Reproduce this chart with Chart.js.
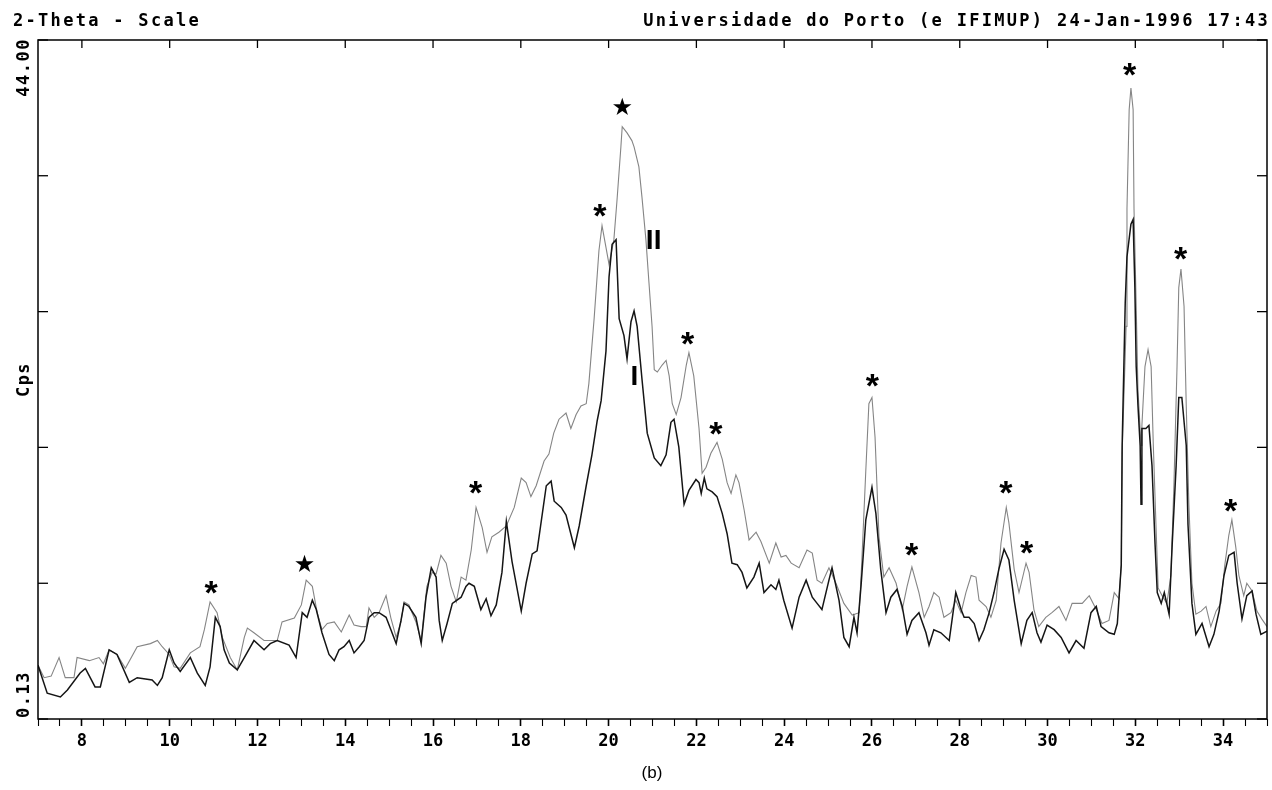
<!DOCTYPE html>
<html>
<head>
<meta charset="utf-8">
<script src="https://cdn.jsdelivr.net/npm/chart.js@4/dist/chart.umd.min.js"></script>
<style>
  html, body { margin: 0; padding: 0; background: #fff; }
  #wrap { width: 1272px; height: 790px; }
</style>
</head>
<body>
<div id="wrap"><canvas id="xrd_canva"></canvas></div>
<script>
// ----- curve I (dark) -----
const thetaI = [
    7.00, 7.21, 7.51, 7.67, 7.96, 8.08, 8.30, 8.42, 8.62, 8.80, 9.08, 9.26, 9.60, 9.72, 9.83, 9.99,
    10.10, 10.24, 10.47, 10.63, 10.81, 10.92, 11.04, 11.15, 11.24, 11.36, 11.54, 11.70, 11.92, 12.15, 12.29, 12.45,
    12.72, 12.88, 13.02, 13.13, 13.25, 13.34, 13.47, 13.63, 13.75, 13.86, 13.97, 14.09, 14.20, 14.32, 14.43, 14.54,
    14.66, 14.77, 14.93, 15.04, 15.16, 15.27, 15.34, 15.45, 15.61, 15.73, 15.84, 15.96, 16.07, 16.14, 16.21, 16.32,
    16.44, 16.64, 16.75, 16.82, 16.94, 17.09, 17.21, 17.32, 17.44, 17.57, 17.67,
    17.80, 18.01, 18.12, 18.26, 18.37, 18.58, 18.69, 18.76, 18.92, 19.03, 19.22, 19.33, 19.49, 19.62, 19.74, 19.83,
    19.94, 20.01, 20.08, 20.17, 20.24, 20.35, 20.42, 20.51, 20.58, 20.65, 20.76, 20.88, 21.04, 21.19, 21.31, 21.42,
    21.49, 21.60, 21.72, 21.83, 21.99, 22.06,
    22.11, 22.18, 22.24, 22.36, 22.47, 22.59, 22.70, 22.81, 22.93, 23.04, 23.15, 23.31, 23.43, 23.54, 23.70, 23.81,
    23.88, 23.99, 24.18, 24.34, 24.50, 24.64, 24.75, 24.86, 25.02, 25.09, 25.25, 25.36, 25.48, 25.59, 25.66, 25.75,
    25.86, 26.00, 26.09, 26.20, 26.32, 26.43, 26.57, 26.69, 26.80, 26.91, 27.07,
    27.23, 27.30, 27.41, 27.57, 27.76, 27.91, 28.03, 28.10, 28.21, 28.33, 28.44, 28.55, 28.67, 28.78, 28.89, 29.01,
    29.12, 29.24, 29.40, 29.53, 29.65, 29.76, 29.85, 29.99, 30.15, 30.31, 30.49, 30.65, 30.83, 30.99, 31.11, 31.22, 31.40,
    31.52, 31.59, 31.68, 31.70, 31.77, 31.81, 31.90, 31.95, 31.99, 32.02, 32.06, 32.11, 32.13, 32.15, 32.24, 32.31,
    32.38, 32.45, 32.50, 32.59, 32.66, 32.77, 32.84, 32.93, 32.99, 33.06, 33.16, 33.20, 33.29, 33.38, 33.52, 33.68,
    33.79, 33.91, 34.02, 34.13, 34.25, 34.32, 34.43, 34.54, 34.66, 34.75, 34.86, 35.00
];
const cpsI = [
    3.6, 1.8, 1.55, 2.0, 3.1, 3.4, 2.2, 2.2, 4.6, 4.3, 2.5, 2.8, 2.65, 2.3, 2.8, 4.6,
    3.75, 3.2, 4.1, 3.1, 2.3, 3.5, 6.7, 6.1, 4.6, 3.75, 3.3, 4.1, 5.2, 4.6, 5.0, 5.2,
    4.9, 4.1, 7.0, 6.7, 7.8, 7.2, 5.7, 4.3, 3.9, 4.6, 4.8, 5.2, 4.4, 4.8, 5.2, 6.7,
    7.0, 7.0, 6.7, 5.9, 5.0, 6.5, 7.6, 7.4, 6.7, 5.0, 8.0, 9.9, 9.3, 6.5, 5.2, 6.3,
    7.6, 8.0, 8.7, 8.9, 8.7, 7.2, 7.9, 6.8, 7.5, 9.6, 12.9,
    10.3, 7.1, 8.9, 10.8, 11.0, 15.2, 15.5, 14.2, 13.8, 13.3, 11.2, 12.6, 15.2, 17.2, 19.4, 20.7,
    23.9, 28.7, 30.8, 31.1, 26.0, 24.9, 23.4, 25.8, 26.5, 25.5, 22.1, 18.6, 17.0, 16.5, 17.2, 19.3,
    19.5, 17.7, 14.0, 14.9, 15.6, 15.4,
    14.7, 15.7, 15.0, 14.8, 14.5, 13.4, 12.1, 10.2, 10.1, 9.6, 8.6, 9.3, 10.2, 8.3, 8.8, 8.5,
    9.1, 7.8, 6.0, 8.0, 9.1, 8.0, 7.6, 7.2, 9.1, 9.9, 7.8, 5.4, 4.8, 6.7, 5.7, 8.7,
    13.0, 15.1, 13.4, 9.8, 7.0, 8.0, 8.5, 7.4, 5.6, 6.5, 7.0,
    5.7, 4.9, 5.9, 5.7, 5.2, 8.3, 7.2, 6.7, 6.7, 6.3, 5.2, 5.9, 7.0, 8.3, 9.8, 11.1,
    10.4, 7.8, 5.0, 6.5, 7.0, 5.7, 5.1, 6.2, 5.9, 5.4, 4.4, 5.2, 4.7, 7.0, 7.4, 6.1, 5.7,
    5.6, 6.3, 10.1, 17.8, 27.0, 30.0, 32.1, 32.4, 28.0, 22.9, 20.4, 17.8, 14.0, 18.9, 18.9, 19.1,
    16.5, 11.4, 8.3, 7.6, 8.3, 6.9, 11.4, 16.5, 20.9, 20.9, 17.8, 12.7, 7.6, 5.6, 6.3, 4.8,
    5.6, 7.1, 9.4, 10.7, 10.9, 8.9, 6.6, 8.1, 8.4, 6.9, 5.6, 5.8
];

// ----- curve II (light) -----
const thetaII = [
    7.00, 7.14, 7.30, 7.48, 7.62, 7.82, 7.89, 8.17, 8.39, 8.49, 8.62, 8.80, 8.99, 9.26, 9.56, 9.72,
    9.83, 9.99, 10.10, 10.24, 10.47, 10.69, 10.79, 10.92, 11.08, 11.20, 11.38, 11.54, 11.70, 11.77, 11.92, 12.15, 12.45,
    12.56, 12.84, 13.00, 13.11, 13.25, 13.36, 13.47, 13.59, 13.75, 13.91, 14.09, 14.20, 14.36, 14.48, 14.54, 14.66,
    14.77, 14.93, 15.04, 15.16, 15.27, 15.34, 15.45, 15.61, 15.73, 15.86, 15.98, 16.07, 16.18, 16.30, 16.41, 16.53,
    16.64, 16.75, 16.87, 16.98, 17.12, 17.23, 17.34, 17.50, 17.67,
    17.85, 18.01, 18.12, 18.23, 18.35, 18.53, 18.64, 18.75, 18.87, 19.03, 19.14, 19.26, 19.37, 19.49, 19.55, 19.67,
    19.78, 19.85, 19.94, 20.01, 20.12, 20.19, 20.28, 20.31, 20.42, 20.53, 20.58, 20.69, 20.76, 20.85, 20.92, 20.99,
    21.04, 21.11, 21.22, 21.31, 21.38, 21.45, 21.54, 21.65, 21.77, 21.83, 21.94, 22.06,
    22.13, 22.22, 22.33, 22.47, 22.59, 22.70, 22.79, 22.90, 22.97, 23.09, 23.20, 23.36, 23.47, 23.66, 23.81, 23.93,
    24.04, 24.16, 24.34, 24.52, 24.64, 24.75, 24.86, 25.02, 25.18, 25.36, 25.55, 25.71, 25.77, 25.86, 25.93, 26.00,
    26.07, 26.16, 26.27, 26.39, 26.55, 26.69, 26.80, 26.91, 27.07,
    27.19, 27.30, 27.41, 27.53, 27.64, 27.80, 27.91, 28.03, 28.14, 28.26, 28.37, 28.44, 28.60, 28.71, 28.83, 28.94,
    29.06, 29.12, 29.24, 29.35, 29.51, 29.58, 29.69, 29.80, 29.96, 30.10, 30.26, 30.42, 30.56, 30.79, 30.95, 31.11,
    31.24, 31.40,
    31.52, 31.63, 31.68, 31.70, 31.79, 31.81, 31.86, 31.90, 31.95, 31.97, 32.02, 32.06, 32.13, 32.15, 32.22, 32.29,
    32.36, 32.41, 32.47, 32.52, 32.61, 32.72, 32.81, 32.88, 32.95, 32.99, 33.04, 33.11, 33.16, 33.22, 33.29, 33.38,
    33.50, 33.61, 33.72, 33.84, 33.95, 34.04, 34.13, 34.20, 34.29, 34.36, 34.47, 34.54, 34.66, 34.77, 34.88, 35.00
];
const cpsII = [
    3.6, 2.8, 2.9, 4.1, 2.8, 2.8, 4.1, 3.9, 4.1, 3.7, 4.6, 4.3, 3.4, 4.8, 5.0, 5.2,
    4.8, 4.3, 3.5, 3.4, 4.4, 4.8, 5.9, 7.7, 7.0, 5.4, 4.1, 3.3, 5.4, 6.0, 5.7, 5.2, 5.2,
    6.4, 6.65, 7.5, 9.1, 8.7, 7.0, 5.9, 6.3, 6.4, 5.75, 6.85, 6.2, 6.1, 6.1, 7.3, 6.7,
    7.0, 8.1, 6.65, 5.4, 6.4, 7.7, 7.5, 6.4, 5.2, 8.7, 9.6, 9.5, 10.7, 10.2, 8.7, 7.7,
    9.3, 9.1, 11.05, 13.8, 12.5, 10.9, 11.9, 12.2, 12.6,
    13.8, 15.7, 15.4, 14.5, 15.2, 16.8, 17.25, 18.6, 19.5, 19.9, 18.9, 19.8, 20.35, 20.5, 21.8, 26.0,
    30.4, 32.0, 30.6, 29.5, 31.1, 33.6, 37.1, 38.4, 38.0, 37.5, 37.1, 35.8, 33.85, 31.1, 28.3, 25.5,
    22.7, 22.55, 23.0, 23.3, 22.3, 20.5, 19.8, 20.9, 23.0, 23.8, 22.3, 18.9,
    16.0, 16.4, 17.3, 18.0, 16.9, 15.4, 14.7, 15.9, 15.4, 13.6, 11.7, 12.2, 11.6, 10.2, 11.5, 10.6,
    10.7, 10.2, 9.9, 11.05, 10.85, 9.1, 8.9, 9.9, 8.9, 7.6, 6.85, 7.0, 10.4, 16.2, 20.5, 20.9,
    18.35, 11.9, 9.3, 9.9, 8.9, 7.2, 8.7, 9.95, 8.3,
    6.7, 7.4, 8.3, 8.0, 6.7, 7.0, 7.8, 7.0, 8.3, 9.4, 9.3, 7.8, 7.4, 6.7, 7.8, 11.5,
    13.8, 12.8, 9.8, 8.3, 10.2, 9.6, 7.2, 6.1, 6.7, 7.0, 7.4, 6.5, 7.6, 7.6, 8.1, 7.2,
    6.3, 6.5,
    8.3, 7.9, 10.1, 17.3, 25.5, 33.1, 39.5, 40.9, 39.5, 33.1, 26.8, 21.4, 17.8, 19.1, 22.9, 24.0,
    22.9, 17.8, 12.7, 8.6, 8.1, 7.6, 9.4, 15.3, 22.9, 28.0, 29.2, 26.8, 20.4, 14.0, 8.9, 6.9,
    7.1, 7.4, 6.1, 7.1, 7.6, 10.1, 12.0, 13.0, 11.2, 9.4, 8.1, 8.9, 8.4, 7.1, 6.6, 6.1
];

// ----- axes -----
const xLabelValues = [8, 10, 12, 14, 16, 18, 20, 22, 24, 26, 28, 30, 32, 34];
const yTickValues = [0.13, 8.90, 17.68, 26.45, 35.23, 44.00];

// ----- peak marks -----
const markTheta = [10.95, 13.09, 16.98, 19.81, 20.33, 21.81, 22.45, 26.02, 26.91, 29.06, 29.53, 31.88, 33.04, 34.18];
const markCps = [8.6, 10.2, 15.1, 33.0, 39.7, 24.7, 18.9, 22.0, 11.05, 15.1, 11.2, 42.1, 30.2, 13.95];
const markSymbol = ['*', '★', '*', '*', '★', '*', '*', '*', '*', '*', '*', '*', '*', '*'];

const curveNames = ['II', 'I'];
const curveNameTheta = [21.04, 20.60];
const curveNameCps = [31.1, 22.35];

const MONO = '"DejaVu Sans Mono", monospace';

function toPoints(xs, ys) {
    return xs.map((v, i) => ({ x: v, y: ys[i] }));
}

function line(ctx, x1, y1, x2, y2) {
    ctx.beginPath();
    ctx.moveTo(x1, y1);
    ctx.lineTo(x2, y2);
    ctx.stroke();
}

// draws text centred on its ink box
function centreText(ctx, s, px, py) {
    const m = ctx.measureText(s);
    ctx.fillText(s, px - (m.actualBoundingBoxRight - m.actualBoundingBoxLeft) / 2 + m.actualBoundingBoxLeft,
        py + (m.actualBoundingBoxAscent - m.actualBoundingBoxDescent) / 2);
}

const decor = {
    id: 'decor',
    afterDraw(chart) {
        const ctx = chart.ctx;
        const a = chart.chartArea;
        const x = chart.scales.x;
        const y = chart.scales.y;
        ctx.save();
        ctx.strokeStyle = '#000';
        ctx.fillStyle = '#000';

        // frame + inward ticks
        ctx.lineWidth = 1.5;
        ctx.strokeRect(a.left, a.top, a.right - a.left, a.bottom - a.top);
        ctx.lineWidth = 1.3;
        yTickValues.forEach(v => {
            const py = y.getPixelForValue(v);
            line(ctx, a.left, py, a.left + 10, py);
            line(ctx, a.right, py, a.right - 10, py);
        });
        xLabelValues.forEach(v => {
            const px = x.getPixelForValue(v);
            line(ctx, px, a.top, px, a.top + 8);
        });

        // peak marks
        ctx.textAlign = 'left';
        ctx.textBaseline = 'alphabetic';
        markSymbol.forEach((s, i) => {
            ctx.font = s === '*' ? 'bold 34px "Liberation Sans"' : '24px "DejaVu Sans"';
            centreText(ctx, s, x.getPixelForValue(markTheta[i]), y.getPixelForValue(markCps[i]));
        });
        ctx.font = 'bold 28px "Liberation Sans"';
        curveNames.forEach((s, i) => {
            centreText(ctx, s, x.getPixelForValue(curveNameTheta[i]), y.getPixelForValue(curveNameCps[i]));
        });

        // header lines
        ctx.font = 'bold 17px ' + MONO;
        ctx.letterSpacing = '2.3px';
        ctx.textBaseline = 'alphabetic';
        ctx.textAlign = 'left';
        ctx.fillText('2-Theta - Scale', 13, 26);
        ctx.textAlign = 'right';
        ctx.fillText('Universidade do Porto (e IFIMUP) 24-Jan-1996 17:43', 1270, 26);

        // rotated y labels
        ctx.letterSpacing = '1.5px';
        ctx.save();
        ctx.translate(25, 0);
        ctx.rotate(-Math.PI / 2);
        ctx.textBaseline = 'middle';
        ctx.textAlign = 'left';
        ctx.fillText(yTickValues[0].toFixed(2), -y.getPixelForValue(yTickValues[0]) + 1, 0);
        ctx.textAlign = 'right';
        ctx.fillText(yTickValues[yTickValues.length - 1].toFixed(2), -y.getPixelForValue(yTickValues[yTickValues.length - 1]) + 2, 0);
        ctx.textAlign = 'center';
        ctx.fillText('Cps', -(a.top + a.bottom) / 2, 0);
        ctx.restore();

        // caption
        ctx.letterSpacing = '0px';
        ctx.font = '17px "Liberation Sans"';
        ctx.textAlign = 'center';
        ctx.textBaseline = 'middle';
        ctx.fillText('(b)', 652, 773);
        ctx.restore();
    }
};

const data_xrd = {
    datasets: [{
        label: 'I',
        data: toPoints(thetaI, cpsI),
        borderColor: '#151515',
        borderWidth: 1.5,
        pointRadius: 0,
        tension: 0
    }, {
        label: 'II',
        data: toPoints(thetaII, cpsII),
        borderColor: '#858585',
        borderWidth: 1.1,
        pointRadius: 0,
        tension: 0
    }]
};

const config_xrd = {
    type: 'line',
    data: data_xrd,
    options: {
        responsive: true,
        maintainAspectRatio: false,
        animation: false,
        events: [],
        layout: {
            padding: { top: 40, right: 3, left: 0, bottom: 0 }
        },
        plugins: {
            legend: { display: false },
            tooltip: { enabled: false }
        },
        scales: {
            x: {
                type: 'linear',
                min: 7,
                max: 35,
                border: { display: false },
                grid: {
                    display: true,
                    drawOnChartArea: false,
                    tickLength: 7,
                    tickColor: '#000',
                    tickWidth: c => (xLabelValues.includes(c.tick.value) ? 1.6 : 1.1)
                },
                ticks: {
                    stepSize: 0.5,
                    autoSkip: false,
                    maxRotation: 0,
                    padding: 5,
                    color: '#000',
                    font: { family: 'DejaVu Sans Mono', size: 17, weight: 'bold' },
                    callback: v => (xLabelValues.includes(v) ? String(v) : '')
                },
                afterFit: s => { s.height = 71; }
            },
            y: {
                min: yTickValues[0],
                max: yTickValues[yTickValues.length - 1],
                border: { display: false },
                grid: { display: false },
                ticks: { display: false },
                afterFit: s => { s.width = 38; }
            }
        }
    },
    plugins: [decor]
};

var xrd = new Chart(
    document.getElementById('xrd_canva'),
    config_xrd
);
</script>
</body>
</html>
